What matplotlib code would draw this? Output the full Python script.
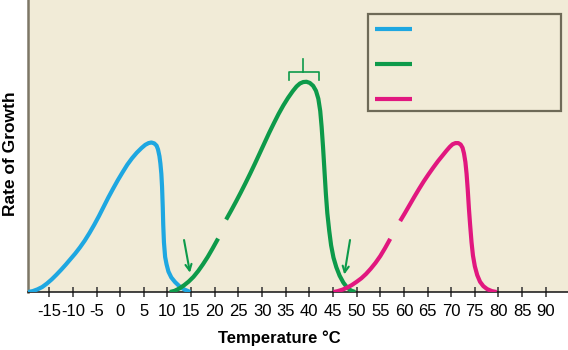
import matplotlib
matplotlib.use("Agg")
import matplotlib.pyplot as plt
from matplotlib.patches import Rectangle

plt.rcParams['font.family'] = ['Liberation Sans', 'DejaVu Sans']

# ---- data (temperature °C, relative rate of growth) ----
blue_t = [-19.5, -18.5, -17.5, -16.5, -15.5, -14.5, -13.5, -12.5, -11.5, -10.5, -9.5, -8.5,
          -7.5, -6.5, -5.5, -4.5, -3.5, -2.5, -1.5, -0.5, 0.5, 1.5, 2.5, 3.5, 4.5, 5.3, 6.0,
          6.6, 7.2, 7.7, 8.0, 8.3, 8.5, 8.7, 8.85, 9.0, 9.1, 9.25, 9.5, 9.8, 10.2, 10.8,
          11.6, 12.5, 13.5, 14.8]
blue_y = [0, 0.3, 0.9, 1.7, 2.9, 4.3, 5.9, 7.6, 9.4, 11.3, 13.2, 15.3,
          17.6, 20.2, 23.0, 26.0, 29.2, 32.4, 35.4, 38.3, 41.0, 43.6, 45.8, 47.7, 49.3, 50.4, 51.0,
          51.2, 50.9, 50.1, 48.8, 46.5, 44, 40.5, 36, 29, 23, 17, 12, 9.5, 7, 5,
          3.4, 2, 0.9, 0]

green_t_a = [10.5, 11.5, 12.5, 13.5, 14.5, 15.5, 16.5, 17.5, 18.5, 19.5, 20.7]
green_y_a = [0, 0.4, 1.2, 2.3, 3.6, 5.2, 7.2, 9.5, 12.0, 14.8, 18.3]
green_t_b = [22.4, 23.5, 24.5, 25.5, 26.5, 27.5, 28.5, 29.5, 30.5, 31.5, 32.5, 33.5, 34.5,
             35.5, 36.5, 37.3, 38.0, 38.7, 39.4, 40.1, 40.8, 41.4, 41.9, 42.3, 42.6, 42.9,
             43.2, 43.5, 43.8, 44.2, 44.6, 45.1, 45.7, 46.4, 47.2, 48.0, 48.8, 49.7]
green_y_b = [24.8, 28.0, 31.0, 34.1, 37.3, 40.6, 44.0, 47.5, 51.0, 54.5, 57.8, 61.0, 63.9,
             66.5, 68.8, 70.4, 71.4, 71.9, 72.0, 71.6, 70.6, 68.9, 66.2, 62.0, 56.5, 49.5,
             41.5, 33.5, 27.0, 21.0, 16.0, 11.8, 8.5, 5.6, 3.2, 1.5, 0.5, 0]

pink_t_a = [45.1, 46, 47, 48, 49, 50, 51, 52, 53, 54, 55, 56, 57.1]
pink_y_a = [0, 0.3, 0.8, 1.5, 2.4, 3.5, 4.7, 6.2, 8.0, 10.0, 12.3, 15.0, 18.2]
pink_t_b = [59.2, 60.2, 61.2, 62.2, 63.2, 64.2, 65.2, 66.2, 67.2, 68.2, 69.0, 69.7, 70.3,
            70.9, 71.5, 72.0, 72.4, 72.7, 73.0, 73.25, 73.5, 73.75, 74.0, 74.3, 74.6, 75.0,
            75.5, 76.1, 76.8, 77.6, 78.6, 79.6]
pink_y_b = [24.3, 27.0, 29.8, 32.6, 35.3, 37.9, 40.3, 42.6, 44.8, 46.8, 48.4, 49.7, 50.6,
            51.0, 51.0, 50.5, 49.4, 47.5, 44.5, 40.5, 35, 28.5, 23.0, 17.0, 12.5, 8.8,
            5.8, 3.5, 2.0, 1.0, 0.3, 0]

xticks = list(range(-15, 95, 5))
xtick_labels = [str(v) for v in xticks]

# optimum bracket (green) and minimum-temperature arrows
bracket_t = [35.6, 38.7, 42.0]
bracket_y = [72.7, 75.4, 79.8]
arrow_tips_t = [14.76, 47.4]
arrow_tips_y = [6.6, 6.0]
arrow_tails_t = [13.5, 48.6]
arrow_tails_y = [17.8, 17.8]

BLUE = '#1ea7e1'
GREEN = '#0d9a4a'
PINK = '#e1177f'
BG = '#f1ebd7'

fig = plt.figure(figsize=(5.68, 3.5), dpi=100)
ax = fig.add_axes([28 / 568, 1 - 292 / 350, 540 / 568, 292 / 350])
ax.set_facecolor(BG)

lw = 3.0
kw = dict(lw=lw, solid_capstyle='butt', solid_joinstyle='round')
ax.plot(blue_t, blue_y, color=BLUE, zorder=3, **kw)
ax.plot(green_t_a, green_y_a, color=GREEN, zorder=4, **kw)
ax.plot(green_t_b, green_y_b, color=GREEN, zorder=4, **kw)
ax.plot(pink_t_a, pink_y_a, color=PINK, zorder=5, **kw)
ax.plot(pink_t_b, pink_y_b, color=PINK, zorder=5, **kw)

# bracket over the green optimum
b0, bc, b1 = bracket_t
ylo, ymid, yhi = bracket_y
ax.plot([b0, b0, b1, b1], [ylo, ymid, ymid, ylo], color=GREEN, lw=1.2, zorder=4)
ax.plot([bc, bc], [ymid, yhi], color=GREEN, lw=1.2, zorder=4)

# arrows
for tt, ty, st, sy in zip(arrow_tips_t, arrow_tips_y, arrow_tails_t, arrow_tails_y):
    ax.annotate('', xy=(tt, ty), xytext=(st, sy),
                arrowprops=dict(arrowstyle='->', color=GREEN, lw=1.5,
                                mutation_scale=11, shrinkA=0, shrinkB=0), zorder=6)

# legend box (without text, as in the reference)
x0 = (368.3 - 28) / 540
y0 = (292 - 111) / 292
w = (561 - 368.3) / 540
h = (111 - 14) / 292
ax.add_patch(Rectangle((x0, y0), w, h, transform=ax.transAxes, facecolor=BG,
                       edgecolor='#6e6a57', lw=1.6, zorder=7))
leg_x = [(375 - 28) / 540, (411.7 - 28) / 540]
for py, c in zip([29, 63.7, 98.7], [BLUE, GREEN, PINK]):
    yy = (292 - py) / 292
    ax.plot(leg_x, [yy, yy], color=c, lw=3, transform=ax.transAxes,
            solid_capstyle='butt', zorder=8)

ax.set_xlim(-19.5, 94.7)
ax.set_ylim(0, 100)
ax.set_xticks(xticks)
ax.set_xticklabels(xtick_labels, fontsize=12)
ax.set_yticks([])
ax.tick_params(axis='x', direction='inout', length=7, width=1.1, color='#333333', pad=5)

for s in ['top', 'right']:
    ax.spines[s].set_visible(False)
ax.spines['left'].set_color('#7d7766')
ax.spines['left'].set_linewidth(1.8)
ax.spines['bottom'].set_color('#111111')
ax.spines['bottom'].set_linewidth(1.1)

ax.set_xlabel('Temperature \u00b0C', fontsize=12, fontweight='bold')
ax.xaxis.set_label_coords((279 - 28) / 540, (292 - 330) / 292)
ax.set_ylabel('Rate of Growth', fontsize=12.5, fontweight='bold')
ax.yaxis.set_label_coords((18 - 28) / 540, (292 - 154) / 292)

fig.savefig('out.png', dpi=100, facecolor='white')
